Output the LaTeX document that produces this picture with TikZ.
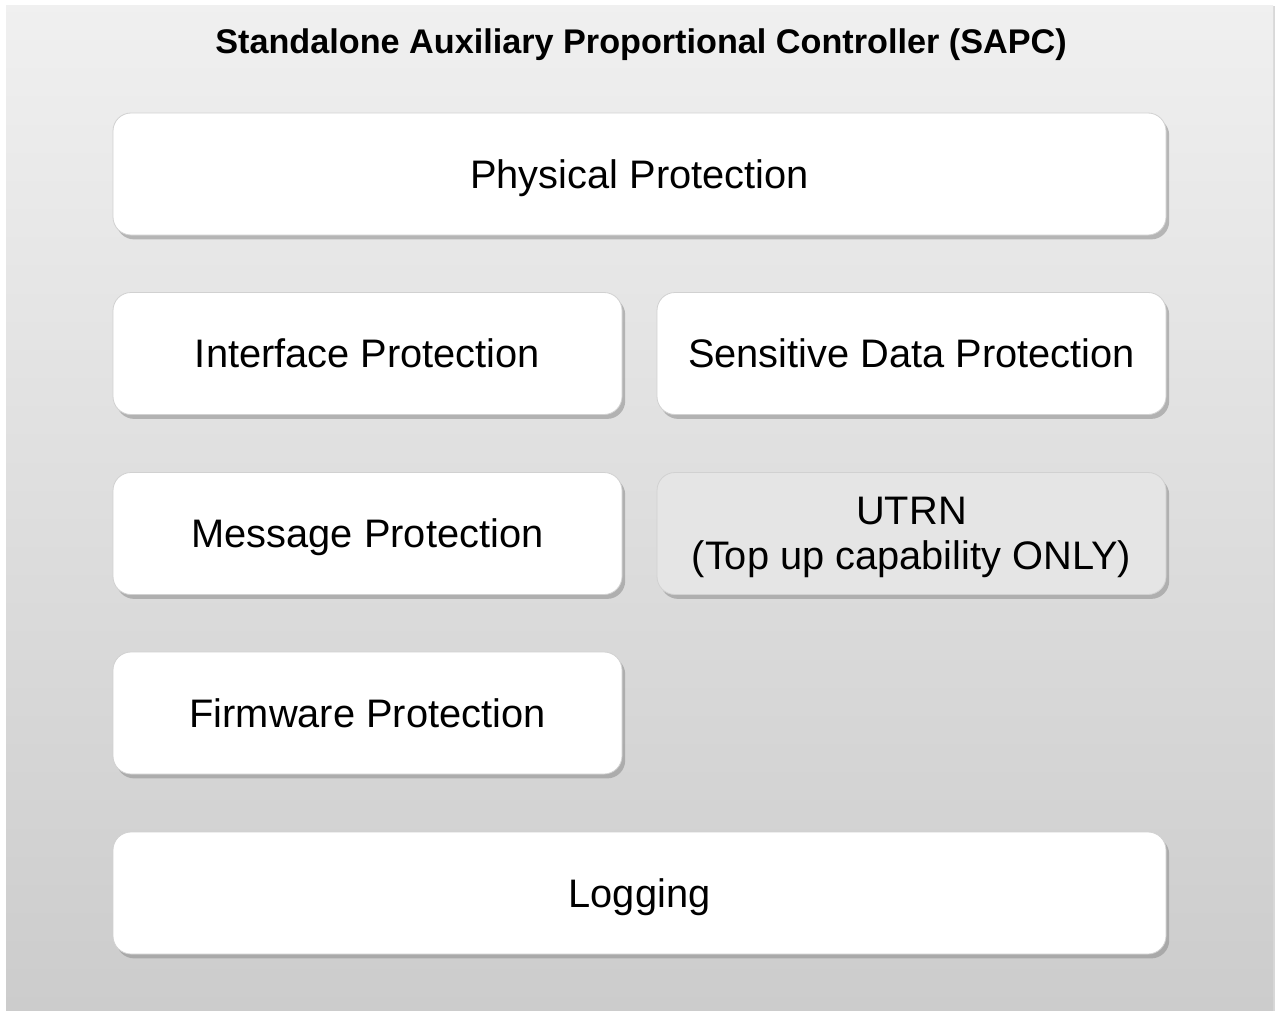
\documentclass[tikz,border=0pt]{standalone}
\usepackage{fontspec}
\setmainfont{Liberation Sans}
\usetikzlibrary{shadows}

\def \globalscale {1.000000}

\begin{document}
\begin{tikzpicture}[y=0.50pt, x=0.50pt, yscale=-\globalscale, xscale=\globalscale, inner sep=0pt, outer sep=0pt,
  layerbox/.style={draw=black!18, line width=0.4pt, fill=white, rounded corners=9pt,
    minimum height=61pt, align=center, text depth=0pt, font=\fontsize{19.9}{22.5}\selectfont,
    drop shadow={shadow xshift=1.6pt, shadow yshift=-2.2pt, fill=black!45, opacity=0.55}},
  fullbox/.style={layerbox, minimum width=526.5pt},
  halfbox/.style={layerbox, minimum width=254.5pt}]
\useasboundingbox (0,0) rectangle (1280,1011);

% outer frame
\path[top color=black!6, bottom color=black!20, drop shadow={shadow xshift=1pt, shadow yshift=0pt, fill=black!30, opacity=0.5}] (6,6) rectangle (1273,1011);

\node[text depth=0pt, font=\bfseries\fontsize{17.1}{20}\selectfont] (title) at (641,41) {Standalone Auxiliary Proportional Controller (SAPC)};

\node[fullbox] (phys) at (639.5,174) {Physical Protection};

\node[halfbox] (iface) at (367.5,353.5) {Interface Protection};

\node[halfbox] (sens) at (911.5,353.5) {Sensitive Data Protection};

\node[halfbox] (msg) at (367.5,533.5) {Message Protection};

\node[halfbox, fill=black!10] (utrn) at (911.5,533.5) {UTRN\\(Top up capability ONLY)};

\node[halfbox] (firm) at (367.5,713) {Firmware Protection};

\node[fullbox] (logg) at (639.5,893) {Logging};

\end{tikzpicture}
\end{document}
